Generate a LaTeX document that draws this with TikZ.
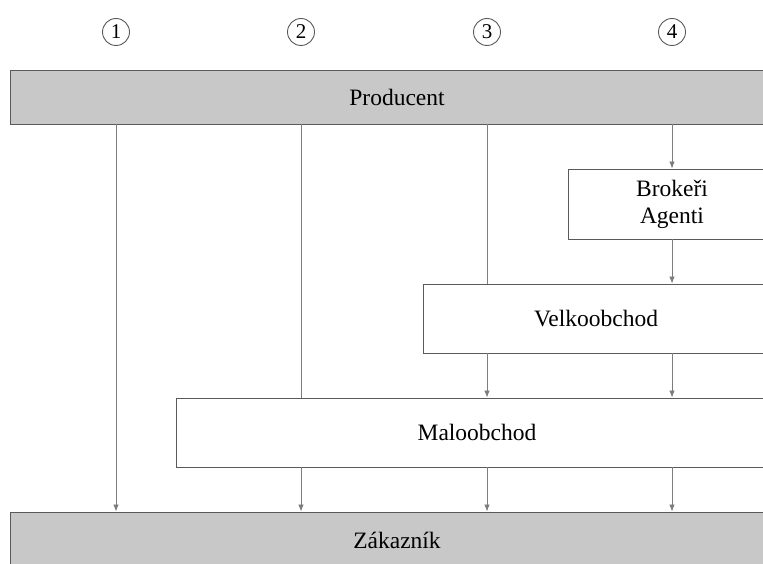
\documentclass[tikz,border=0pt]{standalone}
\usepackage{fontspec}
\setmainfont{Liberation Serif}
\usetikzlibrary{arrows.meta}
\definecolor{boxgray}{RGB}{200,200,200}
\definecolor{linegray}{RGB}{125,125,125}
\definecolor{framegray}{RGB}{90,90,90}
\tikzset{
	stage/.style={draw=framegray, line width=0.9pt, fill=white, inner sep=0pt, align=center, font=\fontsize{23.5}{27}\selectfont},
	endstage/.style={stage, fill=boxgray},
	channel/.style={circle, draw=framegray, line width=0.9pt, minimum size=27pt, inner sep=0pt, font=\fontsize{21}{21}\selectfont},
	flow/.style={draw=linegray, line width=0.8pt},
	flowto/.style={flow, -{Latex[length=7pt,width=5.5pt]}}
}
\begin{document}
\begin{tikzpicture}[x=1pt, y=1pt]
	\useasboundingbox (0,0) rectangle (763,563);
	\clip (0,0) rectangle (763,563);
	\foreach \i/\x in {1/116, 2/301, 3/487, 4/672}
		\node[channel] (c\i) at (\x, 531) {\i};
	\node[endstage, minimum width=774pt, minimum height=54pt] (prod) at (397, 466) {Producent};
	\node[stage, minimum width=208pt, minimum height=70pt] (brok) at (672, 359) {Brokeři\\Agenti};
	\node[stage, minimum width=346pt, minimum height=69pt] (velk) at (596, 244.5) {Velkoobchod};
	\node[stage, minimum width=602pt, minimum height=69pt] (malo) at (477, 130.5) {Maloobchod};
	\node[endstage, minimum width=774pt, minimum height=56pt] (zak) at (397, 23) {Zákazník};
	\draw[flowto] (prod.south -| c1) -- (zak.north -| c1);
	\draw[flow] (prod.south -| c2) -- (malo.north -| c2);
	\draw[flow] (prod.south -| c3) -- (velk.north -| c3);
	\draw[flowto] (prod.south -| c4) -- (brok.north -| c4);
	\draw[flowto] (brok.south -| c4) -- (velk.north -| c4);
	\foreach \i in {3, 4}
		\draw[flowto] (velk.south -| c\i) -- (malo.north -| c\i);
	\foreach \i in {2, 3, 4}
		\draw[flowto] (malo.south -| c\i) -- (zak.north -| c\i);
\end{tikzpicture}
\end{document}
